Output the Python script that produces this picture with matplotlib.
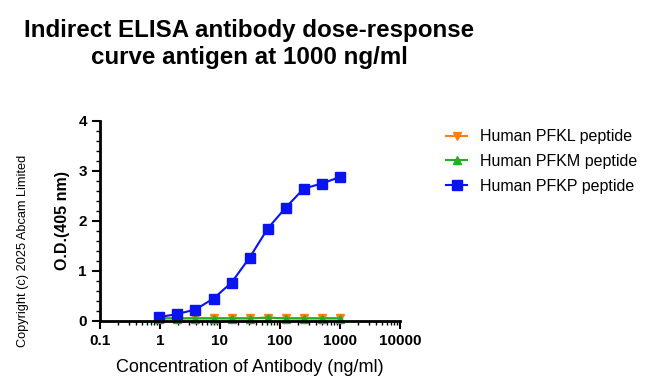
import numpy as np
import matplotlib
matplotlib.use('Agg')
import matplotlib.pyplot as plt
from matplotlib.ticker import MultipleLocator, LogLocator, NullFormatter, FixedLocator

plt.rcParams['font.family'] = ['Liberation Sans', 'DejaVu Sans']

conc = [0.98, 1.95, 3.9, 7.8, 15.6, 31.25, 62.5, 125, 250, 500, 1000]
pfkl = [0.07, 0.06, 0.06, 0.06, 0.06, 0.06, 0.06, 0.06, 0.06, 0.06, 0.06]
pfkm = [0.05, 0.05, 0.05, 0.05, 0.05, 0.05, 0.07, 0.05, 0.05, 0.05, 0.05]
pfkp = [0.08, 0.14, 0.23, 0.45, 0.77, 1.27, 1.85, 2.27, 2.65, 2.75, 2.88]

series_names = ['Human PFKL peptide', 'Human PFKM peptide', 'Human PFKP peptide']
colors = ['#ff7f0e', '#22b022', '#0a14f0']
markers = ['v', '^', 's']

fig = plt.figure(figsize=(6.52, 3.91), dpi=100)
ax = fig.add_axes([100/652, 1 - 321/391, 300/652, 200/391])

for vals, name, c, m in zip([pfkl, pfkm, pfkp], series_names, colors, markers):
    ax.plot(conc, vals, color=c, marker=m, markersize=7 if m == 's' else 6,
            linewidth=1.5, label=name, clip_on=False)

ax.set_xscale('log')
ax.set_xlim(0.1, 10000)
ax.set_ylim(0, 4)
ax.xaxis.set_major_locator(FixedLocator([0.1, 1, 10, 100, 1000, 10000]))
ax.set_xticklabels(['0.1', '1', '10', '100', '1000', '10000'])
ax.xaxis.set_minor_locator(LogLocator(base=10, subs=np.arange(2, 10)))
ax.xaxis.set_minor_formatter(NullFormatter())
ax.yaxis.set_major_locator(MultipleLocator(1))
ax.yaxis.set_minor_locator(MultipleLocator(0.2))

for s in ['top', 'right']:
    ax.spines[s].set_visible(False)
for s in ['left', 'bottom']:
    ax.spines[s].set_linewidth(2)
ax.tick_params(which='major', length=6, width=1.5, labelsize=11)
ax.tick_params(which='minor', length=3, width=1)
for lbl in ax.get_xticklabels() + ax.get_yticklabels():
    lbl.set_fontweight('bold')

ax.set_xlabel('Concentration of Antibody (ng/ml)', fontsize=13, labelpad=8)
ax.set_ylabel('O.D.(405 nm)', fontsize=11.5, fontweight='bold', labelpad=6)

fig.text(249/652, 1 - 44/391, 'Indirect ELISA antibody dose-response\ncurve antigen at 1000 ng/ml',
         ha='center', va='center', fontsize=17.4, fontweight='bold', linespacing=1.2)
fig.text(23/652, 1 - 251/391, 'Copyright (c) 2025 Abcam Limited', rotation=90,
         ha='center', va='center', fontsize=9.2)

ax.legend(loc='upper left', bbox_to_anchor=(432/652, 1 - 115/391), bbox_transform=fig.transFigure,
          frameon=False, fontsize=11.5, handlelength=1.3, labelspacing=0.6)

fig.savefig('out.png', dpi=100)
